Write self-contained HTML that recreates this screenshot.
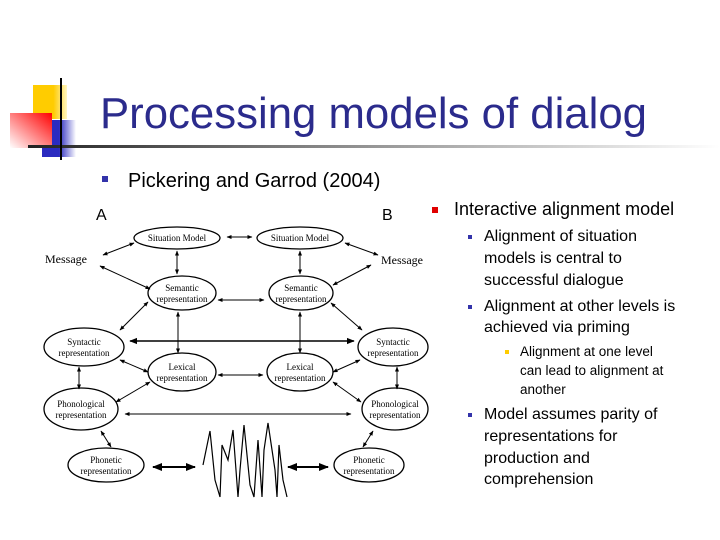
<!DOCTYPE html>
<html><head><meta charset="utf-8"><style>
html,body{margin:0;padding:0;background:#fff;}
svg{display:block;}
.d{font-family:"Liberation Serif",serif;fill:#000;}
.s{font-family:"Liberation Sans",sans-serif;fill:#000;}
</style></head><body>
<svg width="720" height="540" viewBox="0 0 720 540" xmlns="http://www.w3.org/2000/svg">
<defs>
<linearGradient id="bar" x1="0" x2="1" y1="0" y2="0"><stop offset="0" stop-color="#222"/><stop offset="0.35" stop-color="#777"/><stop offset="1" stop-color="#fff"/></linearGradient>
<linearGradient id="red" x1="1" x2="0" y1="0" y2="1"><stop offset="0" stop-color="#f00"/><stop offset="1" stop-color="#fff"/></linearGradient>
<linearGradient id="blu" x1="0" x2="1"><stop offset="0.5" stop-color="#2b2bc0"/><stop offset="1" stop-color="#fff"/></linearGradient>
<linearGradient id="yel" x1="0" x2="1"><stop offset="0.6" stop-color="#ffcc00"/><stop offset="1" stop-color="#fff5c0"/></linearGradient>
<marker id="a" viewBox="0 0 10 10" refX="9" refY="5" markerWidth="5" markerHeight="5" orient="auto-start-reverse"><path d="M0,1 L10,5 L0,9 z" fill="#000"/></marker>
</defs>
<rect x="33" y="85" width="34" height="34" fill="url(#yel)"/>
<rect x="42" y="120" width="34" height="37" fill="url(#blu)"/>
<rect x="10" y="113" width="42" height="35" fill="url(#red)"/>
<rect x="28" y="145" width="692" height="3" fill="url(#bar)"/>
<rect x="60" y="78" width="2" height="82" fill="#000"/>
<text x="100" y="128" class="s" font-size="44" fill="#2b2b8c" style="fill:#2b2b8c" textLength="547" lengthAdjust="spacingAndGlyphs">Processing models of dialog</text>
<rect x="102" y="176" width="6" height="6" fill="#3333aa"/>
<text x="128" y="187" class="s" font-size="20">Pickering and Garrod (2004)</text>

<g fill="none" stroke="#000" stroke-width="1.3">
<ellipse cx="177" cy="238" rx="43" ry="11"/>
<ellipse cx="300" cy="238" rx="43" ry="11"/>
<ellipse cx="182" cy="293" rx="34" ry="17"/>
<ellipse cx="301" cy="293" rx="32" ry="17"/>
<ellipse cx="84" cy="347" rx="40" ry="19"/>
<ellipse cx="393" cy="347" rx="35" ry="19"/>
<ellipse cx="182" cy="372" rx="34" ry="19"/>
<ellipse cx="300" cy="372" rx="33" ry="19"/>
<ellipse cx="81" cy="409" rx="37" ry="21"/>
<ellipse cx="395" cy="409" rx="33" ry="21"/>
<ellipse cx="106" cy="465" rx="38" ry="17"/>
<ellipse cx="369" cy="465" rx="35" ry="17"/>
</g>
<g class="d" font-size="9" text-anchor="middle">
<text x="177" y="241">Situation Model</text>
<text x="300" y="241">Situation Model</text>
<text x="182" y="291">Semantic</text><text x="182" y="302">representation</text>
<text x="301" y="291">Semantic</text><text x="301" y="302">representation</text>
<text x="84" y="345">Syntactic</text><text x="84" y="356">representation</text>
<text x="393" y="345">Syntactic</text><text x="393" y="356">representation</text>
<text x="182" y="370">Lexical</text><text x="182" y="381">representation</text>
<text x="300" y="370">Lexical</text><text x="300" y="381">representation</text>
<text x="81" y="407">Phonological</text><text x="81" y="418">representation</text>
<text x="395" y="407">Phonological</text><text x="395" y="418">representation</text>
<text x="106" y="463">Phonetic</text><text x="106" y="474">representation</text>
<text x="369" y="463">Phonetic</text><text x="369" y="474">representation</text>
</g>
<text x="45" y="263" class="d" font-size="12">Message</text>
<text x="381" y="264" class="d" font-size="12">Message</text>
<text x="96" y="220" class="s" font-size="16">A</text>
<text x="382" y="220" class="s" font-size="16">B</text>

<g stroke="#000" stroke-width="1" marker-start="url(#a)" marker-end="url(#a)" fill="none">
<line x1="227" y1="237" x2="252" y2="237"/>
<line x1="218" y1="300" x2="264" y2="300"/>
<line x1="218" y1="375" x2="263" y2="375"/>
<line x1="130" y1="341" x2="354" y2="341" stroke-width="1.6"/>
<line x1="125" y1="414" x2="351" y2="414"/>
<line x1="153" y1="467" x2="195" y2="467" stroke-width="2"/>
<line x1="288" y1="467" x2="328" y2="467" stroke-width="2"/>
<line x1="103" y1="255" x2="134" y2="243"/>
<line x1="100" y1="266" x2="150" y2="289"/>
<line x1="177" y1="251" x2="177" y2="274"/>
<line x1="300" y1="251" x2="300" y2="274"/>
<line x1="345" y1="243" x2="378" y2="255"/>
<line x1="371" y1="265" x2="333" y2="285"/>
<line x1="148" y1="302" x2="120" y2="330"/>
<line x1="178" y1="312" x2="178" y2="353"/>
<line x1="300" y1="312" x2="300" y2="353"/>
<line x1="331" y1="303" x2="362" y2="330"/>
<line x1="120" y1="360" x2="148" y2="372"/>
<line x1="360" y1="360" x2="333" y2="372"/>
<line x1="79" y1="367" x2="79" y2="389"/>
<line x1="397" y1="367" x2="397" y2="389"/>
<line x1="150" y1="382" x2="116" y2="402"/>
<line x1="333" y1="382" x2="361" y2="402"/>
<line x1="101" y1="431" x2="111" y2="447"/>
<line x1="373" y1="431" x2="363" y2="447"/>
</g>
<polyline fill="none" stroke="#000" stroke-width="1.2" points="203,465 210,431 215,480 220,497 222,445 228,460 233,430 238,497 240,470 244,425 250,485 254,497 258,440 262,497 264,450 268,423 275,470 277,497 279,445 283,480 287,497"/>

<rect x="432" y="207" width="6" height="6" fill="#e00000"/>
<text x="454" y="215" class="s" font-size="18">Interactive alignment model</text>
<rect x="468" y="235" width="4" height="4" fill="#3333aa"/>
<rect x="468" y="305" width="4" height="4" fill="#3333aa"/>
<rect x="468" y="413" width="4" height="4" fill="#3333aa"/>
<rect x="505" y="350" width="4" height="4" fill="#ffcc00"/>
<g class="s" font-size="16">
<text x="484" y="241">Alignment of situation</text>
<text x="484" y="263">models is central to</text>
<text x="484" y="285">successful dialogue</text>
<text x="484" y="311">Alignment at other levels is</text>
<text x="484" y="332">achieved via priming</text>
<text x="484" y="419">Model assumes parity of</text>
<text x="484" y="441">representations for</text>
<text x="484" y="463">production and</text>
<text x="484" y="484">comprehension</text>
</g>
<g class="s" font-size="13.5">
<text x="520" y="356">Alignment at one level</text>
<text x="520" y="375">can lead to alignment at</text>
<text x="520" y="394">another</text>
</g>
</svg>
</body></html>
